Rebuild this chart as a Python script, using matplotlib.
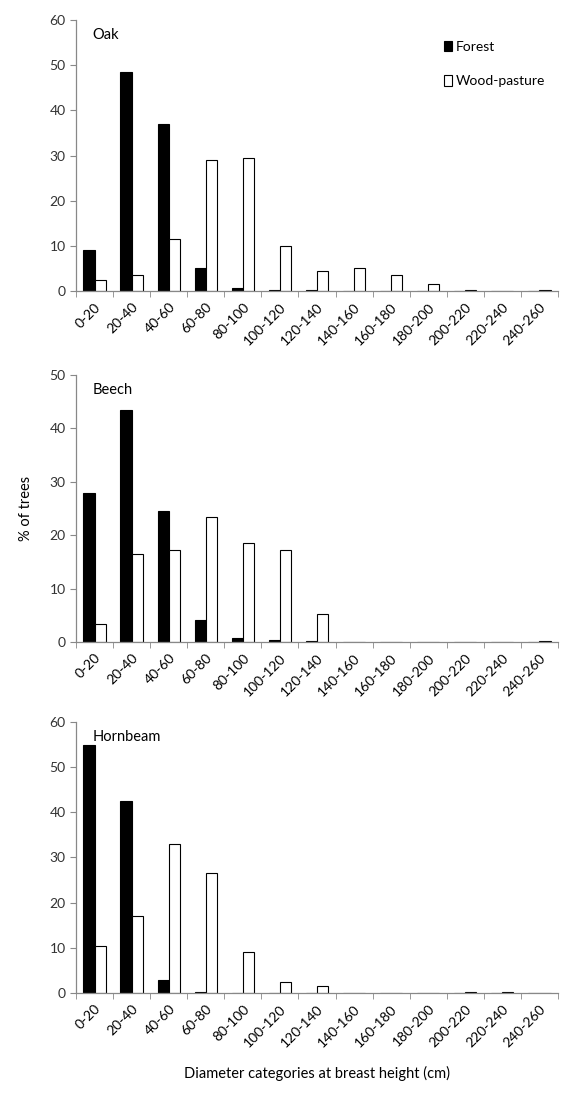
import matplotlib
matplotlib.use("Agg")
import matplotlib.pyplot as plt
import numpy as np

plt.rcParams['font.family'] = ['Lato', 'DejaVu Sans']

categories = ["0-20", "20-40", "40-60", "60-80", "80-100", "100-120", "120-140",
              "140-160", "160-180", "180-200", "200-220", "220-240", "240-260"]

oak_forest = [9, 48.5, 37, 5, 0.7, 0.3, 0.2, 0, 0, 0, 0, 0, 0]
oak_pasture = [2.5, 3.5, 11.5, 29, 29.5, 10, 4.5, 5, 3.5, 1.5, 0.3, 0.1, 0.3]

beech_forest = [28, 43.5, 24.5, 4.2, 0.7, 0.3, 0.1, 0, 0, 0, 0, 0, 0]
beech_pasture = [3.3, 16.5, 17.3, 23.5, 18.5, 17.3, 5.2, 0, 0, 0, 0, 0, 0.2]

hornbeam_forest = [55, 42.5, 2.8, 0.3, 0, 0, 0, 0, 0, 0, 0, 0, 0]
hornbeam_pasture = [10.5, 17, 33, 26.5, 9, 2.5, 1.5, 0, 0, 0, 0.2, 0.1, 0]

panels = [
    ("Oak", oak_forest, oak_pasture, 60, [0.135, 0.7342, 0.856, 0.2475]),
    ("Beech", beech_forest, beech_pasture, 50, [0.135, 0.4137, 0.856, 0.2438]),
    ("Hornbeam", hornbeam_forest, hornbeam_pasture, 60, [0.135, 0.0932, 0.856, 0.2474]),
]

fig = plt.figure(figsize=(5.63, 10.95), dpi=100)
x = np.arange(len(categories))
w = 0.3
axes = []
for name, f, p, ymax, rect in panels:
    ax = fig.add_axes(rect)
    ax.bar(x - w / 2, f, width=w, color='black', edgecolor='black', linewidth=0.8, label='Forest')
    ax.bar(x + w / 2, p, width=w, color='white', edgecolor='black', linewidth=0.8, label='Wood-pasture')
    ax.set_xlim(-0.5, len(categories) - 0.5)
    ax.set_ylim(0, ymax)
    ax.set_yticks(np.arange(0, ymax + 1, 10))
    ax.set_xticks(x)
    ax.set_xticklabels(categories, rotation=45, ha='right', rotation_mode='anchor', fontsize=10)
    ax.set_xticks(np.arange(-0.5, len(categories), 1), minor=True)
    ax.tick_params(axis='x', which='major', length=0, pad=7)
    ax.tick_params(axis='x', which='minor', length=4, color='#888888', direction='out')
    ax.tick_params(axis='y', length=4, color='#888888', labelsize=10, labelcolor='#333333')
    for s in ['top', 'right']:
        ax.spines[s].set_visible(False)
    for s in ['left', 'bottom']:
        ax.spines[s].set_color('#888888')
        ax.spines[s].set_linewidth(0.9)
    ax.text(0.035, 0.97, name, transform=ax.transAxes, fontsize=10.5, va='top', ha='left')
    axes.append(ax)

axes[0].legend(loc='upper right', frameon=False, fontsize=10, handlelength=0.6,
               handleheight=0.8, handletextpad=0.3, labelspacing=1.6,
               bbox_to_anchor=(1.0, 0.97))
axes[1].set_ylabel('% of trees', fontsize=10.5, labelpad=12)
axes[2].set_xlabel('Diameter categories at breast height (cm)', fontsize=10.5, labelpad=12)

fig.savefig('out.png', dpi=100, facecolor='white')
